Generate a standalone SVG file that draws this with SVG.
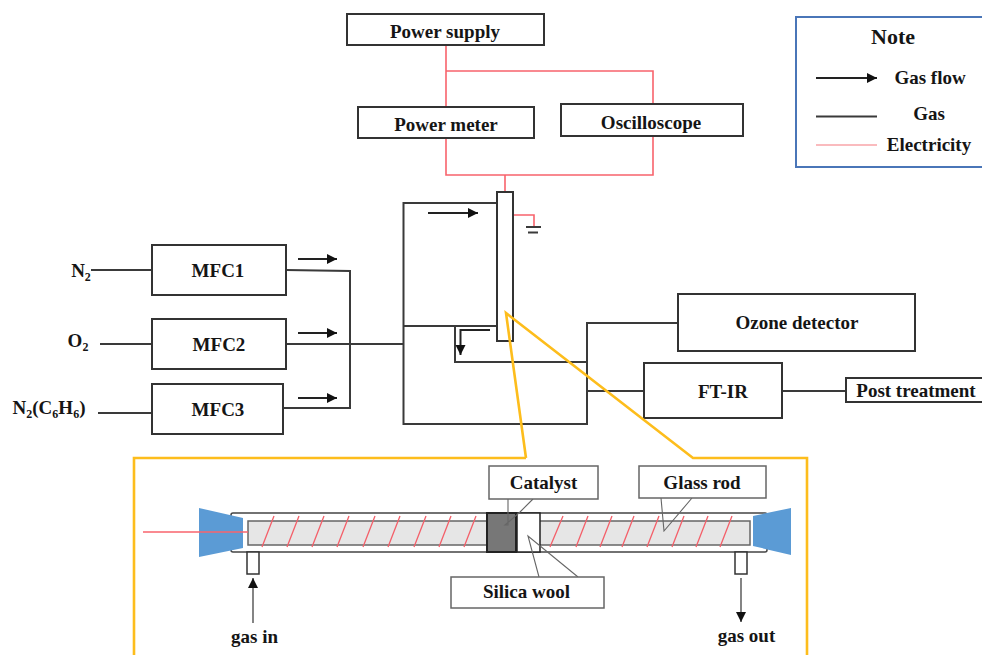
<svg xmlns="http://www.w3.org/2000/svg" width="982" height="655" viewBox="0 0 982 655">
<defs>
<marker id="ah" markerUnits="userSpaceOnUse" markerWidth="12" markerHeight="12" refX="11" refY="6" orient="auto"><path d="M1,1 L11,6 L1,11 Z" fill="#111"/></marker>
</defs>
<style>
text{font-family:"Liberation Serif","Times New Roman",serif;font-weight:bold;fill:#151515;text-anchor:middle;font-size:19px}
.box{fill:#fff;stroke:#333;stroke-width:2}
.gas{fill:none;stroke:#3a3a3a;stroke-width:2}
.el{fill:none;stroke:#f8636c;stroke-width:1.6}
.flow{fill:none;stroke:#222;stroke-width:2;marker-end:url(#ah)}
.thin{fill:none;stroke:#333;stroke-width:1.2;marker-end:url(#ah)}
.yl{fill:none;stroke:#fdbd1c;stroke-width:2.6}
.call{fill:#fff;stroke:#666;stroke-width:1.5}
.tail{fill:none;stroke:#666;stroke-width:1.1}
.coil{fill:none;stroke:#f4606a;stroke-width:1.3}
.sub{font-size:12px}
</style>
<g id="connectors">
<path class="el" d="M446,45V107M446,71H653V104M446,138V175H653V136M505,175V192"/>
<path class="el" d="M513,215H534V227"/>
<path class="gas" d="M526,227H541M528,232.500H538"/>
<path class="gas" d="M91,270H152M100,344H152M98,413H152M286,270L350,271V408H283M286,344H403"/>
<path class="gas" d="M496,203H403.500V424H587V323H678M403.500,326H497M455,326V362H587M587,391H644M782,391H846"/>
<path class="flow" d="M298,259H337"/>
<path class="flow" d="M298,333H337"/>
<path class="flow" d="M298,398H337"/>
<path class="flow" d="M428,213H478"/>
<path class="flow" d="M490,330H460.500V355"/>
</g>
<g id="power-supply"><rect class="box" x="347" y="14" width="197" height="31"/><text x="445" y="38">Power supply</text></g>
<g id="power-meter"><rect class="box" x="358" y="107" width="176" height="31"/><text x="446" y="131">Power meter</text></g>
<g id="oscilloscope"><rect class="box" x="561" y="104" width="182" height="32"/><text x="651" y="129">Oscilloscope</text></g>
<g id="note">
<rect x="796" y="17" width="190" height="150" fill="#fff" stroke="#4a76b8" stroke-width="2"/>
<text x="893" y="44" style="font-size:22px">Note</text>
<path class="flow" d="M816,78H877"/>
<path class="gas" d="M816,116.500H877"/>
<path d="M816,145H877" fill="none" stroke="#f8a4a8" stroke-width="1.500"/>
<text x="930" y="84">Gas flow</text>
<text x="929" y="120">Gas</text>
<text x="929" y="151">Electricity</text>
</g>
<g id="mfc1"><rect class="box" x="152" y="245" width="134" height="50"/><text x="218" y="277">MFC1</text></g>
<g id="mfc2"><rect class="box" x="152" y="319" width="134" height="50"/><text x="219" y="351">MFC2</text></g>
<g id="mfc3"><rect class="box" x="152" y="384" width="131" height="50"/><text x="218" y="416">MFC3</text></g>
<g id="n2"><text x="81" y="277">N<tspan class="sub" dy="4">2</tspan></text></g>
<g id="o2"><text x="78" y="347">O<tspan class="sub" dy="4">2</tspan></text></g>
<g id="n2c6h6"><text x="49" y="414">N<tspan class="sub" dy="4">2</tspan><tspan dy="-4">(C</tspan><tspan class="sub" dy="4">6</tspan><tspan dy="-4">H</tspan><tspan class="sub" dy="4">6</tspan><tspan dy="-4">)</tspan></text></g>
<g id="reactor"><rect class="box" x="497" y="192" width="16" height="149"/></g>
<g id="ozone-detector"><rect class="box" x="678" y="294" width="237" height="57"/><text x="797" y="329">Ozone detector</text></g>
<g id="ft-ir"><rect class="box" x="644" y="363" width="138" height="55"/><text x="723" y="398">FT-IR</text></g>
<g id="post-treatment"><rect class="box" x="846" y="378" width="140" height="24"/><text x="916" y="397">Post treatment</text></g>
<g id="detail-frame">
<path class="yl" d="M526,458H134V655M807,655V458H693L506,313L526,458"/>
</g>
<g id="detail">
<rect x="231" y="513" width="536" height="39" rx="2" fill="#fff" stroke="#444" stroke-width="1.500"/>
<rect x="248" y="521" width="502" height="24" fill="#e6e6e6" stroke="#666" stroke-width="1.500"/>
<path class="coil" d="M262,547L274,516M287,547L299,516M312,547L324,516M337,547L349,516M363,547L375,516M388,547L400,516M414,547L426,516M439,547L451,516M464,547L476,516"/>
<path class="coil" d="M550,547L563,516M576,547L588,516M600,547L612,516M622,547L634,516M647,547L659,516M672,547L684,516M696,547L708,516M720,547L732,516"/>
<rect x="487" y="513" width="29" height="39" fill="#777" stroke="#222" stroke-width="2"/>
<rect x="517" y="513" width="23" height="39" fill="#fff" stroke="#222" stroke-width="1.500"/>
<path d="M199,508L243,518V548L199,557Z" fill="#5b9bd5"/>
<path d="M753,516L791,508V555L753,546Z" fill="#5b9bd5"/>
<path class="el" d="M143,532H248"/>
<rect x="247" y="552" width="12" height="22" fill="#fff" stroke="#333" stroke-width="1.500"/>
<rect x="735" y="552" width="12" height="22" fill="#fff" stroke="#333" stroke-width="1.500"/>
<path class="thin" d="M253,623V578"/>
<path class="thin" d="M741,578V622"/>
<text x="254.500" y="643">gas in</text>
<text x="746.500" y="642">gas out</text>
<path class="tail" d="M508,499V525L505,525L520,512L533,499"/>
<rect class="call" x="489" y="466" width="109" height="33"/>
<text x="543.500" y="489">Catalyst</text>
<path class="tail" d="M661,498L664,531L692,498"/>
<rect class="call" x="639" y="466" width="127" height="32"/>
<text x="702" y="489">Glass rod</text>
<path class="tail" d="M539,577L528,536L578,577"/>
<rect class="call" x="451" y="577" width="153" height="31"/>
<text x="526.500" y="598">Silica wool</text>
</g>
</svg>
